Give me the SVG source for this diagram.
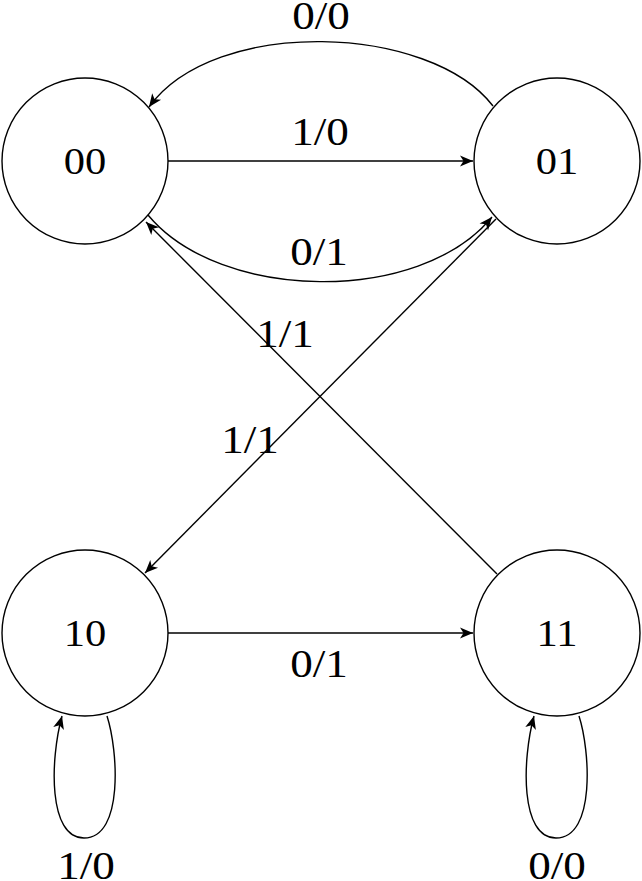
<svg xmlns="http://www.w3.org/2000/svg" width="642" height="881" viewBox="0 0 642 881">
  <defs>
    <marker id="arr" markerUnits="userSpaceOnUse" markerWidth="14" markerHeight="12" refX="13" refY="5.5" orient="auto" overflow="visible">
      <path d="M0,0 L13,5.5 L0,11 L3.5,5.5 Z" fill="#000" stroke="none"/>
    </marker>
  </defs>
  <style>
    .node circle { fill: #fff; stroke: #000; stroke-width: 1.4; }
    .node text { font-family: 'Liberation Serif', 'Times New Roman', serif; font-size: 38px; text-anchor: middle; fill: #000; }
    .edge { fill: none; stroke: #000; stroke-width: 1.4; }
    .lbl { font-family: 'Liberation Serif', 'Times New Roman', serif; font-size: 41px; text-anchor: middle; fill: #000; }
  </style>
  <rect width="642" height="881" fill="#fff"/>
  <g id="connectors">
    <path class="edge" d="M168,161 L473,161" marker-end="url(#arr)"/>
    <path class="edge" d="M493,106 C430,24 215,16 149,107" marker-end="url(#arr)"/>
    <path class="edge" d="M148,215 C220,302 420,305 492,217" marker-end="url(#arr)"/>
    <path class="edge" d="M497,574 L146,222" marker-end="url(#arr)"/>
    <path class="edge" d="M496,219 L145,573" marker-end="url(#arr)"/>
    <path class="edge" d="M168,633 L473,633" marker-end="url(#arr)"/>
    <path class="edge" d="M107,716 C118,750 124,838 84,838 C48,838 50,760 62,716" marker-end="url(#arr)"/>
    <path class="edge" d="M579,716 C590,750 596,838 556,838 C520,838 522,760 534,716" marker-end="url(#arr)"/>
    <text class="lbl" font-family="Liberation Serif, serif" transform="translate(321,29) scale(1.1,1)">0/0</text>
    <text class="lbl" font-family="Liberation Serif, serif" transform="translate(320,145) scale(1.1,1)">1/0</text>
    <text class="lbl" font-family="Liberation Serif, serif" transform="translate(319,265) scale(1.1,1)">0/1</text>
    <text class="lbl" font-family="Liberation Serif, serif" transform="translate(285,347) scale(1.1,1)">1/1</text>
    <text class="lbl" font-family="Liberation Serif, serif" transform="translate(250,453) scale(1.1,1)">1/1</text>
    <text class="lbl" font-family="Liberation Serif, serif" transform="translate(319,677) scale(1.1,1)">0/1</text>
    <text class="lbl" font-family="Liberation Serif, serif" transform="translate(86,879) scale(1.1,1)">1/0</text>
    <text class="lbl" font-family="Liberation Serif, serif" transform="translate(557,879) scale(1.1,1)">0/0</text>
  </g>
  <g id="node-00" class="node">
    <circle cx="85" cy="161" r="83"/>
    <text font-family="Liberation Serif, serif" transform="translate(85,174) scale(1.12,1)">00</text>
  </g>
  <g id="node-01" class="node">
    <circle cx="557" cy="161" r="83"/>
    <text font-family="Liberation Serif, serif" transform="translate(557,174) scale(1.12,1)">01</text>
  </g>
  <g id="node-10" class="node">
    <circle cx="85" cy="633" r="83"/>
    <text font-family="Liberation Serif, serif" transform="translate(85,646) scale(1.12,1)">10</text>
  </g>
  <g id="node-11" class="node">
    <circle cx="557" cy="633" r="83"/>
    <text font-family="Liberation Serif, serif" transform="translate(557,646) scale(1.12,1)">11</text>
  </g>
</svg>
